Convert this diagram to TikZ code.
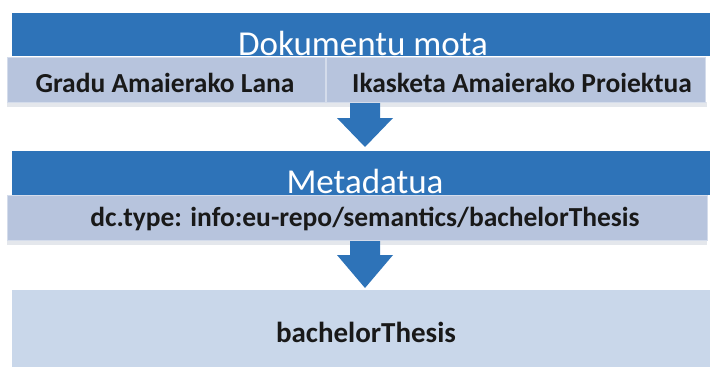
\documentclass[tikz,border=0pt]{standalone}
\usepackage{fontspec}
\setmainfont{Carlito}
\definecolor{barblue}{RGB}{46,115,184}
\definecolor{rowlight}{RGB}{183,196,221}
\definecolor{boxlight}{RGB}{201,215,234}
\definecolor{shadowc}{RGB}{228,231,236}
\begin{document}
\begin{tikzpicture}[x=1pt,y=-1pt,
  bar/.style={fill=barblue, draw=none, inner sep=0pt, anchor=north west},
  rowbox/.style={fill=rowlight, draw=rowlight!60!white, line width=0.8pt, inner sep=0pt, anchor=north west},
  lastbox/.style={fill=boxlight, draw=none, inner sep=0pt, anchor=north west},
  titletext/.style={text=white, font=\fontsize{35}{40}\selectfont, anchor=base, inner sep=0pt},
  rowtext/.style={text=black!90, font=\bfseries\fontsize{27.5}{32}\selectfont, anchor=base, inner sep=0pt},
  resulttextstyle/.style={text=black!90, font=\bfseries\fontsize{29}{34}\selectfont, anchor=base, inner sep=0pt},
  blockarrow/.style={fill=barblue, draw=none}]
\useasboundingbox (0,0) rectangle (710,367);
\fill[white] (0,0) rectangle (710,367);

% Row 1
\node[bar, minimum width=698pt, minimum height=43pt] (bar1) at (12,13) {};
\fill[shadowc] (7,102) rectangle (707,107);
\node[rowbox, minimum width=318pt, minimum height=45pt] (gradu) at (7,57) {};
\node[rowbox, minimum width=379pt, minimum height=45pt] (ikas) at (326,57) {};
\node[titletext] (t1) at (363,55) {Dokumentu mota};
\node[rowtext] (gradutext) at (165,92) {Gradu Amaierako Lana};
\node[rowtext] (ikastext) at (522,92) {Ikasketa Amaierako Proiektua};

% Arrow 1
\fill[blockarrow] (350,103) -- (380,103) -- (380,118) -- (393,118) -- (365,147) -- (337,118) -- (350,118) -- cycle;

% Row 2
\node[bar, minimum width=698pt, minimum height=44pt] (bar2) at (12,151) {};
\fill[shadowc] (7,240) rectangle (707,245);
\node[rowbox, minimum width=700pt, minimum height=45pt] (meta) at (7,195) {};
\node[titletext] (t2) at (365,193) {Metadatua};
\node[rowtext] (metatext) at (365,226) {dc.type: info:eu-repo/semantics/bachelorThesis};

% Arrow 2
\fill[blockarrow] (350,241) -- (380,241) -- (380,255) -- (393,255) -- (365,288) -- (337,255) -- (350,255) -- cycle;

% Result
\node[lastbox, minimum width=698pt, minimum height=78pt] (result) at (12,290) {};
\node[resulttextstyle] (resulttext) at (366,342) {bachelorThesis};
\end{tikzpicture}
\end{document}
